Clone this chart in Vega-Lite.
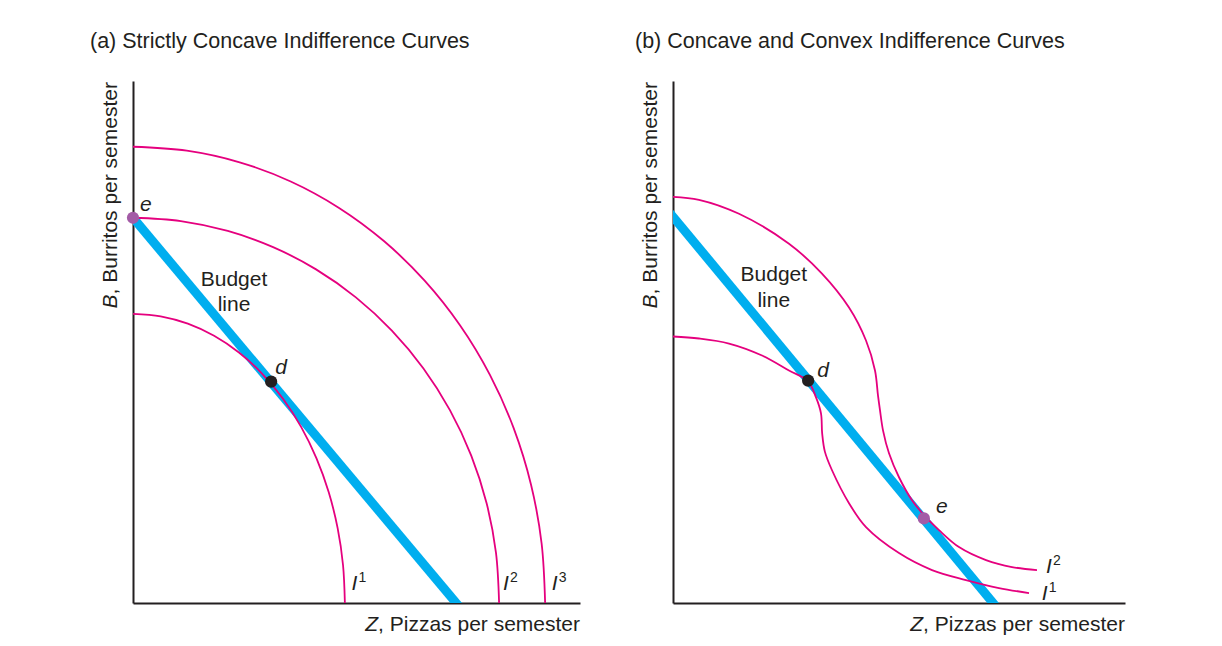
{
  "$schema": "https://vega.github.io/schema/vega-lite/v6.json",
  "background": "white",
  "padding": {"left": 90, "top": 30, "right": 96, "bottom": 10},
  "spacing": 55,
  "config": {
    "view": {"stroke": null},
    "font": "Liberation Sans",
    "axis": {"domainColor": "#231f20", "domainWidth": 2, "ticks": false, "labels": false, "grid": false, "title": null},
    "title": {"font": "Liberation Sans", "fontSize": 21.5, "fontWeight": "normal", "color": "#231f20", "anchor": "start", "frame": "group", "baseline": "alphabetic", "offset": 29},
    "text": {"font": "Liberation Sans", "fontSize": 21, "color": "#231f20", "baseline": "alphabetic"}
  },
  "datasets": {
    "curves": [
      {"panel": "a", "curve": "I3", "i": 0, "x": 0, "y": 87.4},
      {"panel": "a", "curve": "I3", "i": 1, "x": 12.03, "y": 86.65},
      {"panel": "a", "curve": "I3", "i": 2, "x": 23.86, "y": 84.42},
      {"panel": "a", "curve": "I3", "i": 3, "x": 35.28, "y": 80.75},
      {"panel": "a", "curve": "I3", "i": 4, "x": 46.1, "y": 75.69},
      {"panel": "a", "curve": "I3", "i": 5, "x": 56.13, "y": 69.34},
      {"panel": "a", "curve": "I3", "i": 6, "x": 65.19, "y": 61.8},
      {"panel": "a", "curve": "I3", "i": 7, "x": 73.15, "y": 53.21},
      {"panel": "a", "curve": "I3", "i": 8, "x": 79.85, "y": 43.7},
      {"panel": "a", "curve": "I3", "i": 9, "x": 85.18, "y": 33.45},
      {"panel": "a", "curve": "I3", "i": 10, "x": 89.06, "y": 22.62},
      {"panel": "a", "curve": "I3", "i": 11, "x": 91.41, "y": 11.41},
      {"panel": "a", "curve": "I3", "i": 12, "x": 92.2, "y": 0},
      {"panel": "a", "curve": "I2", "i": 0, "x": 0, "y": 73.8},
      {"panel": "a", "curve": "I2", "i": 1, "x": 10.69, "y": 73.17},
      {"panel": "a", "curve": "I2", "i": 2, "x": 21.2, "y": 71.28},
      {"panel": "a", "curve": "I2", "i": 3, "x": 31.34, "y": 68.18},
      {"panel": "a", "curve": "I2", "i": 4, "x": 40.95, "y": 63.91},
      {"panel": "a", "curve": "I2", "i": 5, "x": 49.86, "y": 58.55},
      {"panel": "a", "curve": "I2", "i": 6, "x": 57.91, "y": 52.18},
      {"panel": "a", "curve": "I2", "i": 7, "x": 64.98, "y": 44.93},
      {"panel": "a", "curve": "I2", "i": 8, "x": 70.93, "y": 36.9},
      {"panel": "a", "curve": "I2", "i": 9, "x": 75.67, "y": 28.24},
      {"panel": "a", "curve": "I2", "i": 10, "x": 79.11, "y": 19.1},
      {"panel": "a", "curve": "I2", "i": 11, "x": 81.2, "y": 9.63},
      {"panel": "a", "curve": "I2", "i": 12, "x": 81.9, "y": 0},
      {"panel": "a", "curve": "I1", "i": 0, "x": 0, "y": 55.4},
      {"panel": "a", "curve": "I1", "i": 1, "x": 6.19, "y": 54.92},
      {"panel": "a", "curve": "I1", "i": 2, "x": 12.27, "y": 53.51},
      {"panel": "a", "curve": "I1", "i": 3, "x": 18.14, "y": 51.18},
      {"panel": "a", "curve": "I1", "i": 4, "x": 23.7, "y": 47.98},
      {"panel": "a", "curve": "I1", "i": 5, "x": 28.86, "y": 43.95},
      {"panel": "a", "curve": "I1", "i": 6, "x": 33.52, "y": 39.17},
      {"panel": "a", "curve": "I1", "i": 7, "x": 37.61, "y": 33.73},
      {"panel": "a", "curve": "I1", "i": 8, "x": 41.05, "y": 27.7},
      {"panel": "a", "curve": "I1", "i": 9, "x": 43.79, "y": 21.2},
      {"panel": "a", "curve": "I1", "i": 10, "x": 45.78, "y": 14.34},
      {"panel": "a", "curve": "I1", "i": 11, "x": 46.99, "y": 7.23},
      {"panel": "a", "curve": "I1", "i": 12, "x": 47.4, "y": 0},
      {"panel": "b", "curve": "I1", "i": 0, "x": 0, "y": 51.05},
      {"panel": "b", "curve": "I1", "i": 1, "x": 5.75, "y": 50.67},
      {"panel": "b", "curve": "I1", "i": 2, "x": 12.39, "y": 49.71},
      {"panel": "b", "curve": "I1", "i": 3, "x": 19.69, "y": 47.42},
      {"panel": "b", "curve": "I1", "i": 4, "x": 25.66, "y": 44.55},
      {"panel": "b", "curve": "I1", "i": 5, "x": 29.87, "y": 42.45},
      {"panel": "b", "curve": "I1", "i": 6, "x": 31.64, "y": 39.39},
      {"panel": "b", "curve": "I1", "i": 7, "x": 32.74, "y": 36.33},
      {"panel": "b", "curve": "I1", "i": 8, "x": 33.0, "y": 32.5},
      {"panel": "b", "curve": "I1", "i": 9, "x": 33.6, "y": 29.0},
      {"panel": "b", "curve": "I1", "i": 10, "x": 35.18, "y": 25.43},
      {"panel": "b", "curve": "I1", "i": 11, "x": 38.94, "y": 19.12},
      {"panel": "b", "curve": "I1", "i": 12, "x": 42.7, "y": 14.53},
      {"panel": "b", "curve": "I1", "i": 13, "x": 50.0, "y": 9.56},
      {"panel": "b", "curve": "I1", "i": 14, "x": 57.3, "y": 6.31},
      {"panel": "b", "curve": "I1", "i": 15, "x": 64.82, "y": 4.4},
      {"panel": "b", "curve": "I1", "i": 16, "x": 72.12, "y": 2.87},
      {"panel": "b", "curve": "I1", "i": 17, "x": 78.76, "y": 1.91},
      {"panel": "b", "curve": "I2", "i": 0, "x": 0, "y": 77.82},
      {"panel": "b", "curve": "I2", "i": 1, "x": 5.75, "y": 77.25},
      {"panel": "b", "curve": "I2", "i": 2, "x": 14.6, "y": 74.57},
      {"panel": "b", "curve": "I2", "i": 3, "x": 25.66, "y": 68.83},
      {"panel": "b", "curve": "I2", "i": 4, "x": 32.96, "y": 63.1},
      {"panel": "b", "curve": "I2", "i": 5, "x": 38.94, "y": 56.6},
      {"panel": "b", "curve": "I2", "i": 6, "x": 42.7, "y": 50.29},
      {"panel": "b", "curve": "I2", "i": 7, "x": 44.69, "y": 44.55},
      {"panel": "b", "curve": "I2", "i": 8, "x": 45.35, "y": 39.77},
      {"panel": "b", "curve": "I2", "i": 9, "x": 45.8, "y": 36.9},
      {"panel": "b", "curve": "I2", "i": 10, "x": 46.46, "y": 33.08},
      {"panel": "b", "curve": "I2", "i": 11, "x": 47.79, "y": 28.68},
      {"panel": "b", "curve": "I2", "i": 12, "x": 50.0, "y": 24.09},
      {"panel": "b", "curve": "I2", "i": 13, "x": 52.88, "y": 19.69},
      {"panel": "b", "curve": "I2", "i": 14, "x": 55.75, "y": 16.63},
      {"panel": "b", "curve": "I2", "i": 15, "x": 58.85, "y": 13.96},
      {"panel": "b", "curve": "I2", "i": 16, "x": 63.27, "y": 10.71},
      {"panel": "b", "curve": "I2", "i": 17, "x": 69.25, "y": 8.22},
      {"panel": "b", "curve": "I2", "i": 18, "x": 75.0, "y": 6.88},
      {"panel": "b", "curve": "I2", "i": 19, "x": 80.53, "y": 6.31}
    ],
    "budget": [
      {"panel": "a", "i": 0, "x": 0, "y": 73.8},
      {"panel": "a", "i": 1, "x": 74.26, "y": -2},
      {"panel": "b", "i": 0, "x": -2, "y": 76.09},
      {"panel": "b", "i": 1, "x": 72.73, "y": -2}
    ],
    "points": [
      {"panel": "a", "name": "e", "x": 0, "y": 73.8},
      {"panel": "a", "name": "d", "x": 30.9, "y": 42.4},
      {"panel": "b", "name": "d", "x": 29.9, "y": 42.6},
      {"panel": "b", "name": "e", "x": 55.5, "y": 16.2}
    ],
    "labels": [
      {"panel": "a", "kind": "plain", "text": "Budget", "x": 22.6, "y": 60.8},
      {"panel": "a", "kind": "plain", "text": "line", "x": 22.6, "y": 56.0},
      {"panel": "a", "kind": "italic", "text": "e", "x": 1.57, "y": 75.1},
      {"panel": "a", "kind": "italic", "text": "d", "x": 31.8, "y": 43.9},
      {"panel": "b", "kind": "plain", "text": "Budget", "x": 22.3, "y": 61.6},
      {"panel": "b", "kind": "plain", "text": "line", "x": 22.3, "y": 56.8},
      {"panel": "b", "kind": "italic", "text": "d", "x": 31.9, "y": 43.3},
      {"panel": "b", "kind": "italic", "text": "e", "x": 58.2, "y": 17.2}
    ],
    "ilabels": [
      {"panel": "a", "base": "I", "sup": "1", "x": 48.9, "y": 2.49},
      {"panel": "a", "base": "I", "sup": "2", "x": 82.8, "y": 2.49},
      {"panel": "a", "base": "I", "sup": "3", "x": 93.7, "y": 2.49},
      {"panel": "b", "base": "I", "sup": "2", "x": 82.5, "y": 5.68},
      {"panel": "b", "base": "I", "sup": "1", "x": 81.6, "y": 0.57}
    ],
    "axistitles": [
      {"panel": "a", "axis": "x", "letter": "Z", "rest": ", Pizzas per semester", "x": 100, "y": -5.3},
      {"panel": "a", "axis": "y", "letter": "B", "rest": ", Burritos per semester", "x": -3.5, "y": 99.8},
      {"panel": "b", "axis": "x", "letter": "Z", "rest": ", Pizzas per semester", "x": 100, "y": -5.3},
      {"panel": "b", "axis": "y", "letter": "B", "rest": ", Burritos per semester", "x": -3.47, "y": 99.8}
    ]
  },
  "hconcat": [
    {
      "width": 447,
      "height": 522,
      "title": {"text": "(a) Strictly Concave Indifference Curves", "dx": -43},
      "layer": [
        {
          "data": {"name": "budget"},
          "transform": [{"filter": "datum.panel === 'a'"}],
          "mark": {"type": "line", "color": "#00aeef", "strokeWidth": 9, "strokeCap": "butt", "clip": true},
          "encoding": {
            "x": {"field": "x", "type": "quantitative", "scale": {"domain": [0, 100], "nice": false}},
            "y": {"field": "y", "type": "quantitative", "scale": {"domain": [0, 100], "nice": false}},
            "order": {"field": "i"}
          }
        },
        {
          "data": {"name": "curves"},
          "transform": [{"filter": "datum.panel === 'a'"}],
          "mark": {"type": "line", "color": "#e5007e", "strokeWidth": 1.8, "interpolate": "catmull-rom", "clip": true},
          "encoding": {
            "x": {"field": "x", "type": "quantitative"},
            "y": {"field": "y", "type": "quantitative"},
            "detail": {"field": "curve"},
            "order": {"field": "i"}
          }
        },
        {
          "data": {"name": "points"},
          "transform": [{"filter": "datum.panel === 'a'"}],
          "mark": {"type": "point", "filled": true, "opacity": 1, "size": 150, "shape": "circle"},
          "encoding": {
            "x": {"field": "x", "type": "quantitative"},
            "y": {"field": "y", "type": "quantitative"},
            "color": {"field": "name", "type": "nominal", "scale": {"domain": ["d", "e"], "range": ["#231f20", "#a35ba6"]}, "legend": null}
          }
        },
        {
          "data": {"name": "labels"},
          "transform": [{"filter": "datum.panel === 'a' && datum.kind === 'plain'"}],
          "mark": {"type": "text", "align": "center"},
          "encoding": {"x": {"field": "x", "type": "quantitative"}, "y": {"field": "y", "type": "quantitative"}, "text": {"field": "text"}}
        },
        {
          "data": {"name": "labels"},
          "transform": [{"filter": "datum.panel === 'a' && datum.kind === 'italic'"}],
          "mark": {"type": "text", "fontStyle": "italic", "align": "left"},
          "encoding": {"x": {"field": "x", "type": "quantitative"}, "y": {"field": "y", "type": "quantitative"}, "text": {"field": "text"}}
        },
        {
          "data": {"name": "ilabels"},
          "transform": [{"filter": "datum.panel === 'a'"}],
          "mark": {"type": "text", "fontStyle": "italic", "align": "left"},
          "encoding": {"x": {"field": "x", "type": "quantitative"}, "y": {"field": "y", "type": "quantitative"}, "text": {"field": "base"}}
        },
        {
          "data": {"name": "ilabels"},
          "transform": [{"filter": "datum.panel === 'a'"}],
          "mark": {"type": "text", "fontSize": 14, "align": "left", "dx": 7, "dy": -8},
          "encoding": {"x": {"field": "x", "type": "quantitative"}, "y": {"field": "y", "type": "quantitative"}, "text": {"field": "sup"}}
        },
        {
          "data": {"name": "axistitles"},
          "transform": [{"filter": "datum.panel === 'a' && datum.axis === 'x'"}],
          "mark": {"type": "text", "align": "right"},
          "encoding": {"x": {"field": "x", "type": "quantitative"}, "y": {"field": "y", "type": "quantitative"}, "text": {"field": "rest"}}
        },
        {
          "data": {"name": "axistitles"},
          "transform": [{"filter": "datum.panel === 'a' && datum.axis === 'x'"}],
          "mark": {"type": "text", "align": "right", "fontStyle": "italic", "dx": -202},
          "encoding": {"x": {"field": "x", "type": "quantitative"}, "y": {"field": "y", "type": "quantitative"}, "text": {"field": "letter"}}
        },
        {
          "data": {"name": "axistitles"},
          "transform": [{"filter": "datum.panel === 'a' && datum.axis === 'y'"}],
          "mark": {"type": "text", "align": "right", "angle": 270},
          "encoding": {"x": {"field": "x", "type": "quantitative"}, "y": {"field": "y", "type": "quantitative"}, "text": {"field": "rest"}}
        },
        {
          "data": {"name": "axistitles"},
          "transform": [{"filter": "datum.panel === 'a' && datum.axis === 'y'"}],
          "mark": {"type": "text", "align": "right", "angle": 270, "fontStyle": "italic", "dx": -212.4},
          "encoding": {"x": {"field": "x", "type": "quantitative"}, "y": {"field": "y", "type": "quantitative"}, "text": {"field": "letter"}}
        }
      ]
    },
    {
      "width": 452,
      "height": 522,
      "title": {"text": "(b) Concave and Convex Indifference Curves", "dx": -38},
      "layer": [
        {
          "data": {"name": "budget"},
          "transform": [{"filter": "datum.panel === 'b'"}],
          "mark": {"type": "line", "color": "#00aeef", "strokeWidth": 9, "strokeCap": "butt", "clip": true},
          "encoding": {
            "x": {"field": "x", "type": "quantitative", "scale": {"domain": [0, 100], "nice": false}},
            "y": {"field": "y", "type": "quantitative", "scale": {"domain": [0, 100], "nice": false}},
            "order": {"field": "i"}
          }
        },
        {
          "data": {"name": "curves"},
          "transform": [{"filter": "datum.panel === 'b'"}],
          "mark": {"type": "line", "color": "#e5007e", "strokeWidth": 1.8, "interpolate": "catmull-rom", "clip": true},
          "encoding": {
            "x": {"field": "x", "type": "quantitative"},
            "y": {"field": "y", "type": "quantitative"},
            "detail": {"field": "curve"},
            "order": {"field": "i"}
          }
        },
        {
          "data": {"name": "points"},
          "transform": [{"filter": "datum.panel === 'b'"}],
          "mark": {"type": "point", "filled": true, "opacity": 1, "size": 150, "shape": "circle"},
          "encoding": {
            "x": {"field": "x", "type": "quantitative"},
            "y": {"field": "y", "type": "quantitative"},
            "color": {"field": "name", "type": "nominal", "scale": {"domain": ["d", "e"], "range": ["#231f20", "#a35ba6"]}, "legend": null}
          }
        },
        {
          "data": {"name": "labels"},
          "transform": [{"filter": "datum.panel === 'b' && datum.kind === 'plain'"}],
          "mark": {"type": "text", "align": "center"},
          "encoding": {"x": {"field": "x", "type": "quantitative"}, "y": {"field": "y", "type": "quantitative"}, "text": {"field": "text"}}
        },
        {
          "data": {"name": "labels"},
          "transform": [{"filter": "datum.panel === 'b' && datum.kind === 'italic'"}],
          "mark": {"type": "text", "fontStyle": "italic", "align": "left"},
          "encoding": {"x": {"field": "x", "type": "quantitative"}, "y": {"field": "y", "type": "quantitative"}, "text": {"field": "text"}}
        },
        {
          "data": {"name": "ilabels"},
          "transform": [{"filter": "datum.panel === 'b'"}],
          "mark": {"type": "text", "fontStyle": "italic", "align": "left"},
          "encoding": {"x": {"field": "x", "type": "quantitative"}, "y": {"field": "y", "type": "quantitative"}, "text": {"field": "base"}}
        },
        {
          "data": {"name": "ilabels"},
          "transform": [{"filter": "datum.panel === 'b'"}],
          "mark": {"type": "text", "fontSize": 14, "align": "left", "dx": 7, "dy": -8},
          "encoding": {"x": {"field": "x", "type": "quantitative"}, "y": {"field": "y", "type": "quantitative"}, "text": {"field": "sup"}}
        },
        {
          "data": {"name": "axistitles"},
          "transform": [{"filter": "datum.panel === 'b' && datum.axis === 'x'"}],
          "mark": {"type": "text", "align": "right"},
          "encoding": {"x": {"field": "x", "type": "quantitative"}, "y": {"field": "y", "type": "quantitative"}, "text": {"field": "rest"}}
        },
        {
          "data": {"name": "axistitles"},
          "transform": [{"filter": "datum.panel === 'b' && datum.axis === 'x'"}],
          "mark": {"type": "text", "align": "right", "fontStyle": "italic", "dx": -202},
          "encoding": {"x": {"field": "x", "type": "quantitative"}, "y": {"field": "y", "type": "quantitative"}, "text": {"field": "letter"}}
        },
        {
          "data": {"name": "axistitles"},
          "transform": [{"filter": "datum.panel === 'b' && datum.axis === 'y'"}],
          "mark": {"type": "text", "align": "right", "angle": 270},
          "encoding": {"x": {"field": "x", "type": "quantitative"}, "y": {"field": "y", "type": "quantitative"}, "text": {"field": "rest"}}
        },
        {
          "data": {"name": "axistitles"},
          "transform": [{"filter": "datum.panel === 'b' && datum.axis === 'y'"}],
          "mark": {"type": "text", "align": "right", "angle": 270, "fontStyle": "italic", "dx": -212.4},
          "encoding": {"x": {"field": "x", "type": "quantitative"}, "y": {"field": "y", "type": "quantitative"}, "text": {"field": "letter"}}
        }
      ]
    }
  ]
}
